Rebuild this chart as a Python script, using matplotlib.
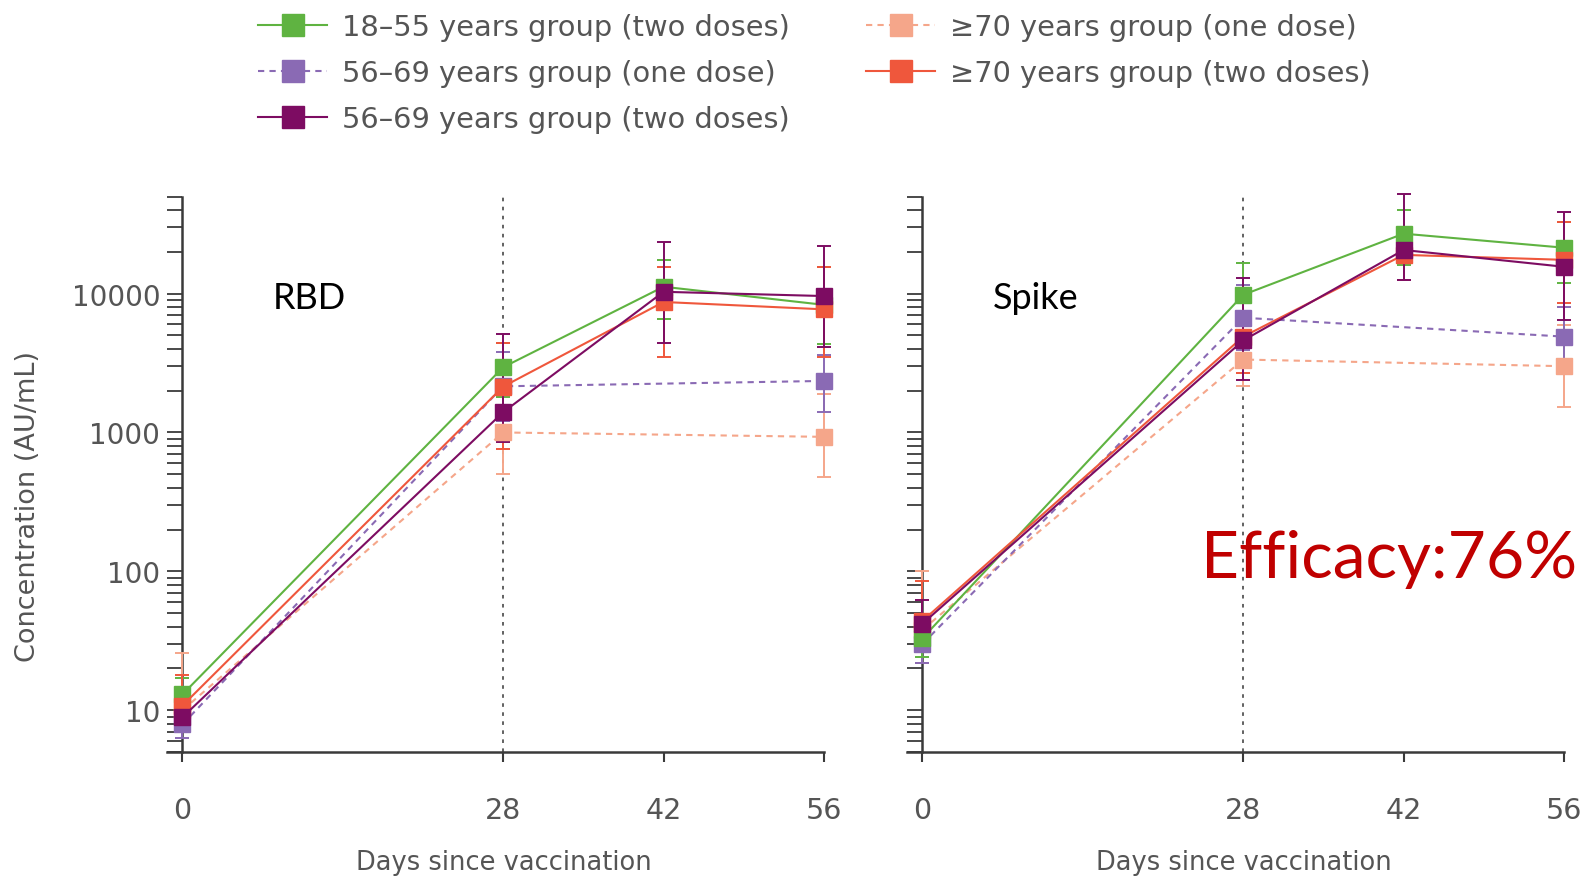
import matplotlib.pyplot as plt
from matplotlib.lines import Line2D
from matplotlib.ticker import LogLocator, NullFormatter, FixedLocator, FixedFormatter

plt.rcParams['font.family'] = ['DejaVu Sans']

# sampling days
days_two = [0, 28, 42, 56]
days_one = [0, 28, 56]
xticks = [0, 28, 42, 56]
yticks = [10, 100, 1000, 10000]
ytick_labels = ['10', '100', '1000', '10000']

group_names = ['18–55 years group (two doses)',
               '56–69 years group (one dose)',
               '56–69 years group (two doses)',
               '≥70 years group (one dose)',
               '≥70 years group (two doses)']
group_colors = ['#5fb341', '#8a6ab4', '#7d0c62', '#f5a68a', '#ef573c']
group_dashed = [False, True, False, True, False]

# RBD geometric means with lower / upper error limits (AU/mL)
rbd_g2 = [13, 2950, 11200, 8300]
rbd_g2_lo = [10, 1800, 6600, 4300]
rbd_g2_hi = [17, 4400, 17500, 15600]
rbd_p1 = [7.9, 2150, 2350]
rbd_p1_lo = [6.3, 1200, 1400]
rbd_p1_hi = [10, 3800, 3600]
rbd_dp2 = [8.9, 1400, 10300, 9600]
rbd_dp2_lo = [7, 850, 4400, 4100]
rbd_dp2_hi = [11.5, 5100, 23500, 22000]
rbd_s1 = [10, 1000, 930]
rbd_s1_lo = [7, 505, 480]
rbd_s1_hi = [26, 2300, 1900]
rbd_r2 = [10.8, 2140, 8700, 7700]
rbd_r2_lo = [8, 760, 3500, 3500]
rbd_r2_hi = [17.8, 4400, 15600, 15600]

# Spike
spk_g2 = [33, 9800, 27000, 21400]
spk_g2_lo = [24, 5800, 16000, 12000]
spk_g2_hi = [45, 16600, 40000, 33000]
spk_p1 = [30, 6700, 4900]
spk_p1_lo = [22, 3900, 3000]
spk_p1_hi = [42, 11500, 8000]
spk_dp2 = [42, 4600, 20600, 15600]
spk_dp2_lo = [28, 2400, 12500, 6500]
spk_dp2_hi = [62, 12900, 52000, 38500]
spk_s1 = [38, 3350, 3000]
spk_s1_lo = [22, 2150, 1530]
spk_s1_hi = [100, 5200, 5900]
spk_r2 = [44, 4900, 19000, 17500]
spk_r2_lo = [30, 2700, 12500, 8500]
spk_r2_hi = [85, 9000, 30000, 33000]

rbd = [(rbd_g2, rbd_g2_lo, rbd_g2_hi), (rbd_p1, rbd_p1_lo, rbd_p1_hi),
       (rbd_dp2, rbd_dp2_lo, rbd_dp2_hi), (rbd_s1, rbd_s1_lo, rbd_s1_hi),
       (rbd_r2, rbd_r2_lo, rbd_r2_hi)]
spk = [(spk_g2, spk_g2_lo, spk_g2_hi), (spk_p1, spk_p1_lo, spk_p1_hi),
       (spk_dp2, spk_dp2_lo, spk_dp2_hi), (spk_s1, spk_s1_lo, spk_s1_hi),
       (spk_r2, spk_r2_lo, spk_r2_hi)]

draw_order = [3, 1, 0, 4, 2]
axis_col = '#3a3a3a'
text_col = '#555555'


def draw_panel(ax, series, title, title_x, show_ylabels):
    for i in draw_order:
        vals, lo, hi = series[i]
        x = days_one if group_dashed[i] else days_two
        err = [[v - l for v, l in zip(vals, lo)], [h - v for v, h in zip(vals, hi)]]
        ls = (0, (3, 2.5)) if group_dashed[i] else '-'
        c = group_colors[i]
        _, caps, bars = ax.errorbar(x, vals, yerr=err, color=c, ls='none', elinewidth=1.4,
                                    capsize=5, capthick=1.4, zorder=3)
        for a in list(caps) + list(bars):
            a.set_clip_on(False)
        ax.plot(x, vals, color=c, ls=ls, lw=1.5, marker='s', ms=11.5, mec=c, mfc=c,
                clip_on=False, zorder=4)

    ax.axvline(28, color='#555555', ls=(0, (2, 3)), lw=1.3, zorder=1)
    ax.set_yscale('log')
    ax.set_xlim(-1.35, 56)
    ax.set_ylim(5, 50000)

    for s in ['top', 'right']:
        ax.spines[s].set_visible(False)
    ax.spines['left'].set_position(('data', 0))
    for s in ['left', 'bottom']:
        ax.spines[s].set_color(axis_col)
        ax.spines[s].set_linewidth(1.8)

    ax.xaxis.set_major_locator(FixedLocator(xticks))
    ax.set_xticklabels([str(t) for t in xticks])
    ax.yaxis.set_major_locator(FixedLocator(yticks))
    ax.yaxis.set_minor_locator(LogLocator(base=10, subs=range(2, 10), numticks=20))
    ax.yaxis.set_minor_formatter(NullFormatter())
    if show_ylabels:
        ax.yaxis.set_major_formatter(FixedFormatter(ytick_labels))
    else:
        ax.yaxis.set_major_formatter(NullFormatter())

    ax.tick_params(axis='x', direction='out', length=7, width=1.5, colors=axis_col,
                   labelcolor=text_col, labelsize=20.5, pad=25)
    ax.tick_params(axis='y', which='both', direction='out', length=11, width=1.3,
                   colors=axis_col, labelcolor=text_col, labelsize=20, pad=5)

    ax.text(title_x, 0.818, title, transform=ax.transAxes, fontsize=26, family='Lato',
            color='black', ha='left', va='center')


fig = plt.figure(figsize=(15.86, 8.79), dpi=100)
ax1 = fig.add_axes([0.1053, 0.1433, 0.4142, 0.632])
ax2 = fig.add_axes([0.5719, 0.1433, 0.4142, 0.632])
for a in (ax1, ax2):
    a.patch.set_alpha(0)

draw_panel(ax1, rbd, 'RBD', 0.161, True)
draw_panel(ax2, spk, 'Spike', 0.131, False)

fig.text(0.318, 0.0185, 'Days since vaccination', fontsize=18.5, color=text_col,
         ha='center', va='center')
fig.text(0.784, 0.0185, 'Days since vaccination', fontsize=18.5, color=text_col,
         ha='center', va='center')
fig.text(0.0177, 0.424, 'Concentration (AU/mL)', fontsize=19.5, color=text_col,
         rotation=90, ha='center', va='center')

fig.text(0.7575, 0.363, 'Efficacy:76%', fontsize=47.5, family='Lato', color='#c00000',
         ha='left', va='center')

# legend split over two columns
handles = [Line2D([], [], color=c, ls=(0, (3, 2.5)) if d else '-', lw=1.5, marker='s',
                  ms=16, mec=c, mfc=c) for c, d in zip(group_colors, group_dashed)]
leg_kw = dict(frameon=False, fontsize=20.8, labelcolor=text_col, borderpad=0,
              borderaxespad=0, handlelength=2.4, handletextpad=0.5, labelspacing=0.62,
              loc='upper left')
fig.legend(handles[:3], group_names[:3], bbox_to_anchor=(258 / 1586, 1 - 14 / 879), **leg_kw)
fig.legend(handles[3:], group_names[3:], bbox_to_anchor=(866 / 1586, 1 - 14 / 879), **leg_kw)

fig.savefig('out.png', dpi=100)
